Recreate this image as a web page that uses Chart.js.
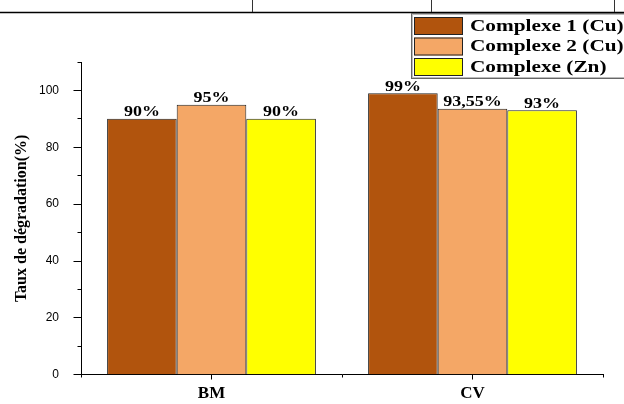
<!DOCTYPE html>
<html>
<head>
<meta charset="utf-8">
<script src="https://cdn.jsdelivr.net/npm/chart.js@4/dist/chart.umd.min.js"></script>
<style>
  html, body { margin: 0; padding: 0; background: #fff; }
  #wrap { width: 624px; height: 404px; }
</style>
</head>
<body>
<div id="wrap"><canvas id="c" width="624" height="404"></canvas></div>
<script>
// Degradation rates of the two dyes for each complex
const categories = ['BM', 'CV'];
const seriesNames = ['Complexe 1 (Cu)', 'Complexe 2 (Cu)', 'Complexe (Zn)'];
const complexe1Cu = [90, 99];
const complexe2Cu = [95, 93.55];
const complexeZn = [90, 93];
const valueLabels = [
  ['90%', '99%'],
  ['95%', '93,55%'],
  ['90%', '93%']
];
const yTickLabels = [0, 20, 40, 60, 80, 100];
const yAxisTitle = 'Taux de dégradation(%)';

const seriesColors = ['#B1540D', '#F4A766', '#FFFF00'];
const SERIF = '"Liberation Serif", "Times New Roman", Times, serif';
const SANS = '"Liberation Sans", Arial, Helvetica, sans-serif';

function alignPx(v) { return Math.round(v - 0.5) + 0.5; }

// Text slightly widened horizontally
function wideText(ctx, text, x, y, sx, align, baseline) {
  ctx.save();
  ctx.translate(x, y);
  ctx.scale(sx, 1);
  ctx.textAlign = align;
  ctx.textBaseline = baseline;
  ctx.fillText(text, 0, 0);
  ctx.restore();
}

// Thin frame lines along the top edge
const frameLines = {
  id: 'frameLines',
  afterDraw(chart) {
    const ctx = chart.ctx;
    ctx.save();
    ctx.strokeStyle = '#000';
    ctx.lineWidth = 1.5;
    ctx.beginPath();
    ctx.moveTo(0, 12.5);
    ctx.lineTo(chart.width, 12.5);
    ctx.stroke();
    ctx.lineWidth = 1;
    ctx.strokeStyle = '#333';
    ctx.beginPath();
    [252.5, 431.5, 614.5].forEach(px => { ctx.moveTo(px, 0); ctx.lineTo(px, 12); });
    ctx.stroke();
    ctx.restore();
  }
};

// Outward major / minor tick marks on both axes
const axisTicks = {
  id: 'axisTicks',
  afterDraw(chart) {
    const { ctx, scales: { x, y } } = chart;
    ctx.save();
    ctx.strokeStyle = '#000';
    ctx.lineWidth = 1;
    ctx.beginPath();
    const ax = alignPx(y.right);
    y.ticks.forEach(t => {
      const py = alignPx(y.getPixelForValue(t.value));
      const len = yTickLabels.includes(t.value) ? 8 : 4;
      ctx.moveTo(ax - len, py);
      ctx.lineTo(ax, py);
    });
    const ay = alignPx(x.top);
    const n = categories.length;
    for (let i = 0; i < n; i++) {
      const px = alignPx(x.getPixelForValue(i));
      ctx.moveTo(px, ay);
      ctx.lineTo(px, ay + 5);
    }
    const bounds = [x.left, x.right];
    for (let i = 0; i < n - 1; i++) {
      bounds.push((x.getPixelForValue(i) + x.getPixelForValue(i + 1)) / 2);
    }
    bounds.forEach(b => {
      const px = alignPx(b);
      ctx.moveTo(px, ay);
      ctx.lineTo(px, ay + 3);
    });
    ctx.stroke();
    ctx.restore();
  }
};

// Percent labels above each bar
const barLabels = {
  id: 'barLabels',
  afterDatasetsDraw(chart) {
    const ctx = chart.ctx;
    ctx.save();
    ctx.fillStyle = '#000';
    ctx.font = 'bold 15px ' + SERIF;
    chart.data.datasets.forEach((ds, di) => {
      const meta = chart.getDatasetMeta(di);
      meta.data.forEach((bar, i) => {
        wideText(ctx, valueLabels[di][i], bar.x, bar.y - 2.5, 1.2, 'center', 'alphabetic');
      });
    });
    ctx.restore();
  }
};

// Framed legend box in the upper right corner
const boxLegend = {
  id: 'boxLegend',
  afterDraw(chart) {
    const ctx = chart.ctx;
    const left = 411, top = 13, bottom = 79;
    ctx.save();
    ctx.fillStyle = '#fff';
    ctx.fillRect(left, top, chart.width - left + 10, bottom - top);
    ctx.strokeStyle = '#666';
    ctx.lineWidth = 1;
    ctx.strokeRect(left + 0.5, top + 0.5, chart.width, bottom - top - 1);
    ctx.strokeStyle = '#bbb';
    ctx.strokeRect(left + 1.5, top + 1.5, chart.width, bottom - top - 3);
    const rowTops = [17, 37.5, 58];
    ctx.font = 'bold 16px ' + SERIF;
    chart.data.datasets.forEach((ds, i) => {
      const ry = rowTops[i];
      ctx.fillStyle = ds.backgroundColor;
      ctx.fillRect(414, ry, 49, 18);
      ctx.strokeStyle = '#222';
      ctx.strokeRect(414.5, ry + 0.5, 48, 17);
      ctx.fillStyle = '#000';
      wideText(ctx, ds.label, 470, ry + 9.5, 1.33, 'left', 'middle');
    });
    ctx.restore();
  }
};

const datasets = [complexe1Cu, complexe2Cu, complexeZn].map((values, i) => ({
  label: seriesNames[i],
  data: values,
  backgroundColor: seriesColors[i],
  borderColor: '#222',
  borderWidth: 1,
  borderSkipped: 'bottom',
  categoryPercentage: 0.8,
  barPercentage: 1.0
}));

new Chart(document.getElementById('c'), {
  type: 'bar',
  data: { labels: categories, datasets },
  options: {
    responsive: false,
    animation: false,
    devicePixelRatio: 1,
    layout: { padding: { top: 62, right: 21, left: 0, bottom: 0 } },
    plugins: {
      legend: { display: false },
      tooltip: { enabled: false }
    },
    scales: {
      x: {
        offset: true,
        grid: { display: true, drawOnChartArea: false, drawTicks: false },
        border: { display: true, color: '#000', width: 1 },
        ticks: {
          padding: 9,
          color: '#000',
          font: { family: SERIF, size: 17, weight: 'bold' }
        },
        afterFit(scale) { scale.height = 27; }
      },
      y: {
        min: 0,
        max: 110,
        grid: { display: true, drawOnChartArea: false, drawTicks: false },
        border: { display: true, color: '#000', width: 1 },
        ticks: {
          stepSize: 10,
          padding: 22,
          color: '#000',
          font: { family: SANS, size: 12 },
          callback: v => (yTickLabels.includes(v) ? String(v) : '')
        },
        title: {
          display: true,
          text: yAxisTitle,
          color: '#000',
          font: { family: SERIF, size: 16, weight: 'bold' },
          padding: { top: 12, bottom: 0 }
        },
        afterFit(scale) { scale.width = 81; }
      }
    }
  },
  plugins: [frameLines, axisTicks, barLabels, boxLegend]
});
</script>
</body>
</html>
